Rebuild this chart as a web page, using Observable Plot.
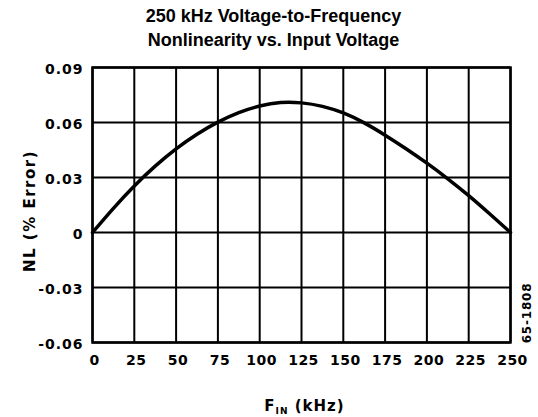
<!DOCTYPE html>
<html>
<head>
<meta charset="utf-8">
<script src="https://cdn.jsdelivr.net/npm/d3@7"></script>
<script src="https://cdn.jsdelivr.net/npm/@observablehq/plot@0.6"></script>
<style>
  html, body { margin: 0; padding: 0; background: #fff; }
  #chart svg { display: block; }
</style>
</head>
<body>
<div id="chart"></div>
<script>
// Data
const titleLines = ["250 kHz Voltage-to-Frequency", "Nonlinearity vs. Input Voltage"];
const yLabel = "NL (% Error)";
const xLabelMain = "F";
const xLabelSub = "IN";
const xLabelRest = " (kHz)";
const figId = "65-1808";

const finKHz = [0, 12.5, 25, 37.5, 50, 62.5, 75, 87.5, 100, 112.5, 125, 137.5, 150, 162.5, 175, 187.5, 200, 212.5, 225, 237.5, 250];
const nlPct  = [0, 0.0132, 0.0254, 0.0362, 0.0456, 0.0536, 0.0602, 0.0654, 0.0690, 0.0709, 0.0707, 0.0688, 0.0652, 0.0598, 0.0531, 0.0457, 0.0378, 0.0293, 0.0201, 0.0102, 0];

const xTicks = [0, 25, 50, 75, 100, 125, 150, 175, 200, 225, 250];
const yTicks = [-0.06, -0.03, 0, 0.03, 0.06, 0.09];

const curve = finKHz.map((f, i) => ({f, nl: nlPct[i]}));
const fmtY = d => d === 0 ? "0" : d.toFixed(2);

const TICKFONT = "DejaVu Sans";

const chart = Plot.plot({
  width: 538,
  height: 417,
  marginLeft: 92,
  marginRight: 28,
  marginTop: 67,
  marginBottom: 75,
  style: {background: "#fff", color: "#000"},
  x: {domain: [0, 250]},
  y: {domain: [-0.06, 0.09]},
  marks: [
    Plot.ruleX(xTicks, {stroke: "#000", strokeWidth: 2}),
    Plot.ruleY(yTicks, {stroke: "#000", strokeWidth: 2}),
    Plot.frame({stroke: "#000", strokeWidth: 2.5}),
    Plot.line(curve, {x: "f", y: "nl", stroke: "#000", strokeWidth: 3.5, curve: "natural"}),
    Plot.axisY(yTicks, {tickSize: 0, tickPadding: 9, tickFormat: fmtY, fontSize: 14, fontWeight: "bold", fontFamily: TICKFONT, fill: "#000", dy: 2, label: null}),
    Plot.axisX(xTicks, {tickSize: 0, tickPadding: 13, fontSize: 14, fontWeight: "bold", fontFamily: TICKFONT, fill: "#000", dx: 2, label: null}),
    Plot.text([titleLines.join("\n")], {frameAnchor: "top", textAnchor: "middle", dx: -28, dy: -22, lineAnchor: "bottom", lineHeight: 1.33, fontSize: 18, fontWeight: "bold", fontFamily: "Liberation Sans", fill: "#000"}),
    Plot.text([yLabel], {frameAnchor: "left", textAnchor: "middle", dx: -62, dy: 6, rotate: -90, fontSize: 15, fontWeight: "bold", fontFamily: TICKFONT, fill: "#000"}),
    Plot.text([xLabelMain + xLabelSub + xLabelRest], {frameAnchor: "bottom", textAnchor: "middle", dx: 3, dy: 68, lineAnchor: "bottom", fontSize: 15, fontWeight: "bold", fontFamily: TICKFONT, fill: "#000"}),
    Plot.text([figId], {frameAnchor: "right", textAnchor: "middle", dx: 17, dy: 108, rotate: -90, fontSize: 12, fontWeight: "bold", fontFamily: TICKFONT, fill: "#000"})
  ]
});

document.getElementById("chart").appendChild(chart);

const svg = d3.select(chart);
svg.selectAll('g[aria-label="y-axis tick label"] text').style("letter-spacing", "1px");
svg.selectAll('g[aria-label="x-axis tick label"] text').style("letter-spacing", "0.5px");
const textGroups = svg.selectAll('g[aria-label="text"]').nodes();
// order: title, y label, x label, figure id
d3.select(textGroups[1]).selectAll("text").style("letter-spacing", "1.5px");
d3.select(textGroups[3]).selectAll("text").style("letter-spacing", "0.8px");
d3.select(textGroups[2]).selectAll("text").each(function() {
  const t = d3.select(this);
  t.text(null).style("letter-spacing", "1px");
  t.append("tspan").text(xLabelMain);
  t.append("tspan").attr("font-size", 9).attr("dy", 3).text(xLabelSub);
  t.append("tspan").attr("dy", -3).text(xLabelRest);
});
</script>
</body>
</html>
